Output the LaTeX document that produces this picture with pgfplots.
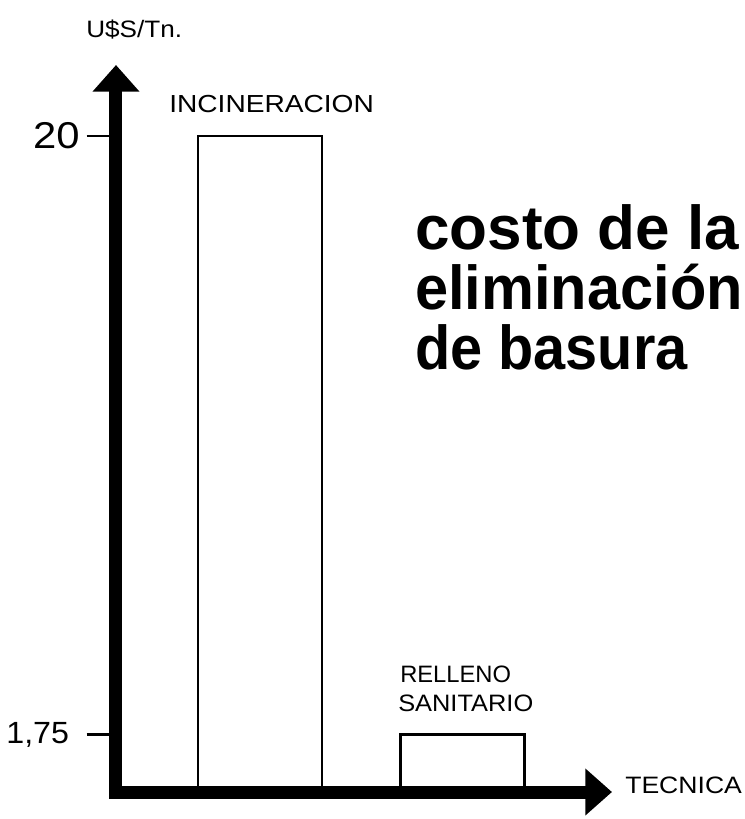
\documentclass[border=0pt]{standalone}
\usepackage{pgfplots}
\pgfplotsset{compat=1.18}
\usepackage{fontspec}
\setmainfont{Liberation Sans}
\usetikzlibrary{arrows.meta}
\begin{document}
\begin{tikzpicture}
\useasboundingbox (0,0) rectangle (558.75pt,614.25pt);
\fill[white] (0,0) rectangle (558.75pt,614.25pt);
\begin{axis}[
  at={(87pt,20.25pt)}, anchor=south west,
  scale only axis, width=372pt, height=545.25pt,
  xmin=-0.711, xmax=1.738, ymin=0, ymax=22.16,
  axis lines=left,
  axis line style={line width=9.75pt, line cap=rect, -{Triangle[width=34pt,length=20pt]}},
  xtick=\empty,
  ytick={1.75,20},
  yticklabels={{\fontsize{23}{23}\selectfont\scalebox{1.05}[1]{1,75}\kern8pt\null},{\fontsize{28}{28}\selectfont\scalebox{1.12}[1]{20}}},
  /pgf/number format/assume math mode=true,
  tick align=outside, major tick length=22pt,
  tick style={line width=2pt, black},
  y tick label style={inner sep=5pt},
  axis on top,
]
\addplot[ybar, bar width=0.612, fill=white, draw=black, line width=2pt] coordinates {(0,20) (1,1.75)};
\end{axis}
\begin{scope}[x=0.75pt,y=0.75pt]
\node[anchor=base west, inner sep=0] at (86,781) {\fontsize{17.8}{20}\selectfont\scalebox{1.1}[1]{U\$S/Tn.}};
\node[anchor=base west, inner sep=0] at (169,706) {\fontsize{18.5}{20}\selectfont\scalebox{1.14}[1]{INCINERACION}};
\node[anchor=base west, inner sep=0] at (400,136) {\fontsize{17.8}{20}\selectfont\scalebox{1.0}[1]{RELLENO}};
\node[anchor=base west, inner sep=0] at (398,107) {\fontsize{17.8}{20}\selectfont\scalebox{1.07}[1]{SANITARIO}};
\node[anchor=base west, inner sep=0] at (625,26) {\fontsize{17.8}{20}\selectfont\scalebox{1.12}[1]{TECNICA}};
\node[anchor=base west, inner sep=0] at (415,569) {\fontsize{46.5}{50}\selectfont\bfseries costo de la};
\node[anchor=base west, inner sep=0] at (415,509) {\fontsize{46.5}{50}\selectfont\bfseries\scalebox{0.96}[1]{eliminación}};
\node[anchor=base west, inner sep=0] at (415,449) {\fontsize{46.5}{50}\selectfont\bfseries\scalebox{0.93}[1]{de basura}};
\end{scope}
\end{tikzpicture}
\end{document}
